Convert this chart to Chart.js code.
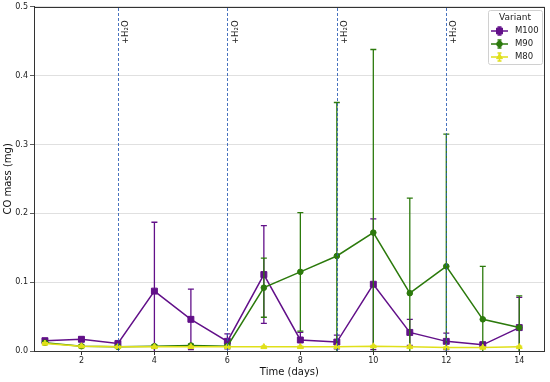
<!DOCTYPE html>
<html><head><meta charset="utf-8">
<script src="https://cdn.jsdelivr.net/npm/chart.js@4.4.1/dist/chart.umd.min.js"></script>
<style>html,body{margin:0;padding:0;background:#fff}#wrap{width:550px;height:382px}</style>
</head><body><div id="wrap"><canvas id="c" width="550" height="382"></canvas></div>
<script>
const days = [1,2,3,4,5,6,7,8,9,10,11,12,13,14];
const m100 = [0.015,0.017,0.011,0.087,0.046,0.014,0.111,0.016,0.013,0.097,0.027,0.014,0.009,0.034];
const m100Err = [0.003,0.003,0.003,0.100,0.044,0.011,0.071,0.011,0.010,0.095,0.019,0.012,0.004,0.044];
const m90 = [0.012,0.007,0.006,0.007,0.008,0.007,0.092,0.115,0.138,0.172,0.084,0.123,0.046,0.034];
const m90Err = [0.002,0.002,0.002,0.002,0.002,0.002,0.043,0.086,0.223,0.266,0.138,0.192,0.077,0.046];
const m80 = [0.011,0.007,0.006,0.006,0.006,0.006,0.006,0.006,0.006,0.007,0.006,0.005,0.005,0.006];
const m80Err = [0.001,0.001,0.001,0.001,0.001,0.001,0.001,0.001,0.001,0.001,0.001,0.001,0.001,0.001];
const waterDays = [3,6,9,12];
const waterLabel = '+H\u2082O';
const xTicks = [2,4,6,8,10,12,14];
const yTicks = [0,0.1,0.2,0.3,0.4,0.5];
const seriesNames = ['M100','M90','M80'];
const colors = ['#621089','#2c7a0c','#e0e01a'];
const markers = ['rect','circle','triangle'];
const radii = [4.2,2.8,3.4];

const FONT = "'DejaVu Sans', sans-serif";
function pts(v){return days.map((d,i)=>({x:d,y:v[i]}));}
const vals=[m100,m90,m80], errs=[m100Err,m90Err,m80Err];

const errorBars = {
  id:'errorBars',
  beforeDatasetDraw(chart,args){
    const i=args.index, ds=chart.data.datasets[i];
    const xs=chart.scales.x, ys=chart.scales.y, ctx=chart.ctx, a=chart.chartArea;
    ctx.save();
    ctx.beginPath();ctx.rect(a.left,a.top,a.right-a.left,a.bottom-a.top);ctx.clip();
    ctx.strokeStyle=ds.borderColor;ctx.lineWidth=1.3;
    const e=errs[i], v=vals[i];
    days.forEach((d,k)=>{
      const x=xs.getPixelForValue(d);
      const y1=ys.getPixelForValue(v[k]+e[k]), y0=ys.getPixelForValue(v[k]-e[k]);
      ctx.beginPath();ctx.moveTo(x,y0);ctx.lineTo(x,y1);
      ctx.moveTo(x-3,y1);ctx.lineTo(x+3,y1);
      ctx.moveTo(x-3,y0);ctx.lineTo(x+3,y0);
      ctx.stroke();
    });
    ctx.restore();
  }
};

const overlay = {
  id:'overlay',
  afterDatasetsDraw(chart){
    const xs=chart.scales.x, ys=chart.scales.y, ctx=chart.ctx, a=chart.chartArea;
    ctx.save();
    ctx.strokeStyle='rgba(40,90,180,0.85)';ctx.lineWidth=1;ctx.setLineDash([3,2]);
    waterDays.forEach(d=>{
      const x=Math.round(xs.getPixelForValue(d))+0.5;
      ctx.beginPath();ctx.moveTo(x,a.bottom);ctx.lineTo(x,a.top);ctx.stroke();
    });
    ctx.setLineDash([]);
    ctx.fillStyle='#222';ctx.font='8.5px '+FONT;ctx.textAlign='left';ctx.textBaseline='middle';
    waterDays.forEach(d=>{
      const x=xs.getPixelForValue(d);
      ctx.save();ctx.translate(x+8,44);ctx.rotate(-Math.PI/2);ctx.fillText(waterLabel,0,0);ctx.restore();
    });
    // frame
    ctx.strokeStyle='#333';ctx.lineWidth=1;
    ctx.strokeRect(Math.round(a.left)+0.5,Math.round(a.top)+0.5,Math.round(a.right-a.left)-1,Math.round(a.bottom-a.top));
    // legend
    const bx=488,by=10,bw=54,bh=54;
    ctx.fillStyle='rgba(255,255,255,0.85)';ctx.strokeStyle='#d0d0d0';
    ctx.beginPath();ctx.roundRect(bx+0.5,by+0.5,bw,bh,2);ctx.fill();ctx.stroke();
    ctx.fillStyle='#222';ctx.font='9px '+FONT;ctx.textAlign='center';ctx.textBaseline='middle';
    ctx.fillText('Variant',bx+bw/2,by+8);
    ctx.font='8.5px '+FONT;
    seriesNames.forEach((n,i)=>{
      const y=by+21+i*13;
      ctx.strokeStyle=colors[i];ctx.lineWidth=1.5;
      ctx.beginPath();ctx.moveTo(bx+3,y);ctx.lineTo(bx+20,y);ctx.moveTo(bx+11.5,y-4);ctx.lineTo(bx+11.5,y+4);
      ctx.moveTo(bx+9.5,y-4);ctx.lineTo(bx+13.5,y-4);ctx.moveTo(bx+9.5,y+4);ctx.lineTo(bx+13.5,y+4);ctx.stroke();
      ctx.fillStyle=colors[i];ctx.lineWidth=1;
      Chart.helpers.drawPoint(ctx,{pointStyle:markers[i],radius:radii[i],rotation:0,borderWidth:1},bx+11.5,y);
      ctx.fillStyle='#222';ctx.textAlign='left';ctx.fillText(n,bx+27,y);
    });
    ctx.restore();
  }
};

new Chart(document.getElementById('c'),{
  type:'line',
  data:{datasets:seriesNames.map((n,i)=>({
    label:n,data:pts(vals[i]),borderColor:colors[i],backgroundColor:colors[i],
    borderWidth:1.5,pointStyle:markers[i],pointRadius:radii[i],pointBorderWidth:1,
    pointBorderColor:colors[i],order:2-i,tension:0
  }))},
  options:{
    responsive:false,animation:false,
    layout:{padding:{top:6,right:4,left:0,bottom:0}},
    plugins:{legend:{display:false},tooltip:{enabled:false}},
    scales:{
      x:{type:'linear',min:0.7,max:14.7,
        afterBuildTicks(s){s.ticks=xTicks.map(v=>({value:v}));},
        afterFit(s){s.height=31;},
        border:{display:true,color:'#333',width:1},
        grid:{drawOnChartArea:false,tickLength:4,tickColor:'#333'},
        ticks:{color:'#222',font:{family:FONT,size:8},padding:1,maxRotation:0,autoSkip:false},
        title:{display:true,text:'Time (days)',color:'#111',font:{family:FONT,size:10},padding:{top:0,bottom:4}}
      },
      y:{min:0,max:0.5,
        afterBuildTicks(s){s.ticks=yTicks.map(v=>({value:v}));},
        afterFit(s){s.width=34;},
        border:{display:true,color:'#333',width:1},
        grid:{color:'#d8d8d8',lineWidth:0.8,borderDash:[1,2],tickLength:4,tickColor:'#333',tickBorderDash:[]},
        ticks:{color:'#222',font:{family:FONT,size:8},padding:2,autoSkip:false,callback:v=>v.toFixed(1)},
        title:{display:true,text:'CO mass (mg)',color:'#111',font:{family:FONT,size:10},padding:{top:2,bottom:0}}
      }
    }
  },
  plugins:[errorBars,overlay]
});
</script></body></html>
